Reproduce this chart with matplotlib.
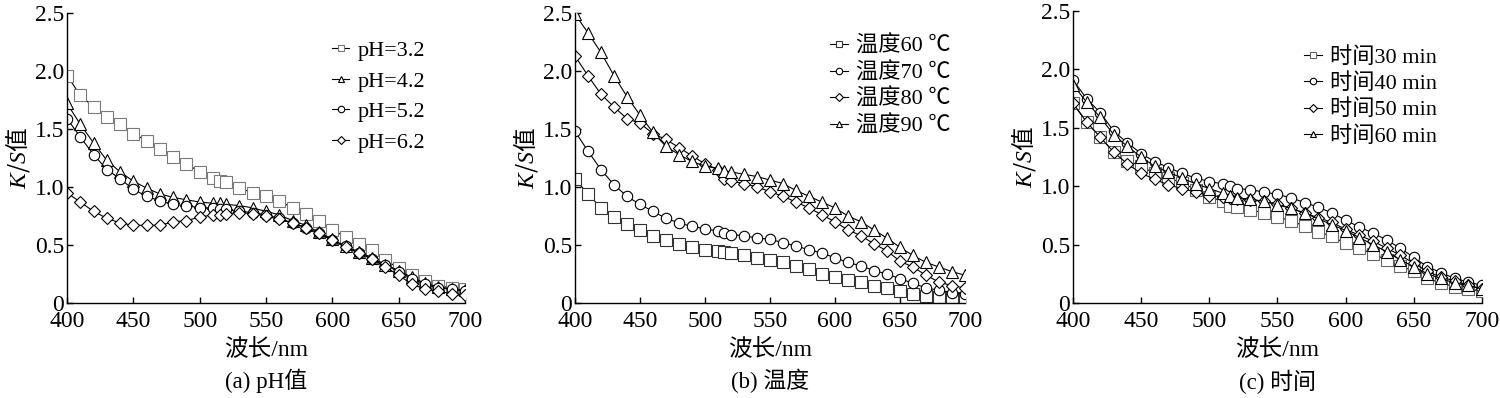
import matplotlib
matplotlib.use("Agg")
import matplotlib.pyplot as plt

plt.rcParams['font.family'] = ['Liberation Serif', 'Noto Sans CJK SC']
plt.rcParams['mathtext.fontset'] = 'custom'
plt.rcParams['mathtext.it'] = 'Liberation Serif:italic'
plt.rcParams['mathtext.rm'] = 'Liberation Serif'

wavelength = [400, 410, 420, 430, 440, 450, 460, 470, 480, 490, 500, 510, 515,
              520, 530, 540, 550, 560, 570, 580, 590, 600, 610, 620, 630, 640,
              650, 660, 670, 680, 690, 700]

# (a) pH
ph_labels = ['pH=3.2', 'pH=4.2', 'pH=5.2', 'pH=6.2']
ph_32 = [1.96, 1.79, 1.69, 1.60, 1.54, 1.46, 1.40, 1.33, 1.26, 1.20, 1.13, 1.08, 1.05,
         1.04, 0.99, 0.95, 0.92, 0.88, 0.82, 0.77, 0.71, 0.63, 0.57, 0.51, 0.46, 0.37,
         0.30, 0.24, 0.19, 0.15, 0.13, 0.12]
ph_42 = [1.72, 1.54, 1.38, 1.23, 1.13, 1.05, 0.99, 0.94, 0.91, 0.89, 0.87, 0.86, 0.86,
         0.85, 0.84, 0.82, 0.79, 0.76, 0.71, 0.67, 0.61, 0.55, 0.49, 0.44, 0.39, 0.33,
         0.28, 0.22, 0.17, 0.14, 0.12, 0.11]
ph_52 = [1.59, 1.43, 1.28, 1.15, 1.07, 0.98, 0.92, 0.88, 0.85, 0.84, 0.82, 0.82, 0.81,
         0.81, 0.79, 0.78, 0.76, 0.73, 0.69, 0.65, 0.60, 0.54, 0.49, 0.43, 0.38, 0.33,
         0.27, 0.21, 0.16, 0.13, 0.12, 0.10]
ph_62 = [0.95, 0.87, 0.79, 0.73, 0.69, 0.67, 0.67, 0.67, 0.70, 0.71, 0.74, 0.76, 0.76,
         0.77, 0.78, 0.77, 0.75, 0.72, 0.69, 0.65, 0.60, 0.54, 0.48, 0.43, 0.38, 0.31,
         0.24, 0.16, 0.12, 0.10, 0.08, 0.07]

# (b) temperature
temp_labels = ['温度60 ℃', '温度70 ℃', '温度80 ℃', '温度90 ℃']
temp_60 = [1.07, 0.94, 0.82, 0.74, 0.68, 0.63, 0.58, 0.54, 0.51, 0.48, 0.46, 0.45, 0.44,
           0.43, 0.41, 0.39, 0.37, 0.35, 0.32, 0.29, 0.25, 0.22, 0.20, 0.18, 0.15, 0.13,
           0.10, 0.08, 0.06, 0.05, 0.04, 0.04]
temp_70 = [1.48, 1.31, 1.15, 1.02, 0.92, 0.85, 0.79, 0.73, 0.69, 0.66, 0.64, 0.62, 0.60,
           0.59, 0.58, 0.56, 0.55, 0.52, 0.49, 0.46, 0.43, 0.39, 0.35, 0.32, 0.28, 0.25,
           0.21, 0.17, 0.13, 0.11, 0.09, 0.08]
temp_80 = [2.13, 1.96, 1.80, 1.69, 1.59, 1.55, 1.46, 1.41, 1.34, 1.27, 1.20, 1.15, 1.07,
           1.05, 1.03, 1.00, 0.96, 0.92, 0.87, 0.82, 0.76, 0.70, 0.63, 0.58, 0.51, 0.45,
           0.36, 0.31, 0.24, 0.18, 0.15, 0.13]
temp_90 = [2.49, 2.33, 2.16, 1.96, 1.78, 1.62, 1.47, 1.35, 1.28, 1.22, 1.18, 1.16, 1.14,
           1.13, 1.11, 1.09, 1.06, 1.03, 0.97, 0.92, 0.87, 0.82, 0.75, 0.70, 0.63, 0.56,
           0.48, 0.41, 0.35, 0.31, 0.27, 0.24]

# (c) time
time_labels = ['时间30 min', '时间40 min', '时间50 min', '时间60 min']
time_30 = [1.71, 1.55, 1.42, 1.29, 1.22, 1.17, 1.11, 1.07, 1.03, 0.97, 0.91, 0.87, 0.83,
           0.82, 0.80, 0.77, 0.74, 0.70, 0.66, 0.61, 0.57, 0.51, 0.47, 0.42, 0.37, 0.32,
           0.27, 0.21, 0.17, 0.14, 0.12, 0.10]
time_40 = [1.91, 1.75, 1.63, 1.47, 1.37, 1.28, 1.21, 1.16, 1.11, 1.07, 1.04, 1.02, 1.00,
           0.98, 0.97, 0.95, 0.93, 0.90, 0.86, 0.82, 0.77, 0.71, 0.65, 0.60, 0.54, 0.47,
           0.39, 0.31, 0.26, 0.21, 0.18, 0.15]
time_50 = [1.71, 1.55, 1.42, 1.29, 1.19, 1.11, 1.06, 1.01, 0.98, 0.95, 0.92, 0.91, 0.90,
           0.89, 0.88, 0.87, 0.85, 0.81, 0.77, 0.73, 0.69, 0.63, 0.58, 0.53, 0.47, 0.41,
           0.34, 0.27, 0.22, 0.19, 0.15, 0.12]
time_60 = [1.87, 1.72, 1.59, 1.44, 1.34, 1.25, 1.17, 1.12, 1.07, 1.02, 0.98, 0.94, 0.92,
           0.90, 0.89, 0.87, 0.84, 0.81, 0.77, 0.72, 0.67, 0.62, 0.56, 0.50, 0.44, 0.37,
           0.31, 0.25, 0.21, 0.17, 0.15, 0.12]

x_ticks = [400, 450, 500, 550, 600, 650, 700]
y_ticks = [0, 0.5, 1.0, 1.5, 2.0, 2.5]
y_ticklabels = ['0', '0.5', '1.0', '1.5', '2.0', '2.5']

panels = [
    dict(rect=[0.0447, 0.2387, 0.2653, 0.7286], series=[ph_32, ph_42, ph_52, ph_62],
         labels=ph_labels, caption='(a) pH值', leg=(0.665, 0.905), lsp=0.45,
         sqcolor='#7a7a7a'),
    dict(rect=[0.3833, 0.2387, 0.2600, 0.7286], series=[temp_60, temp_70, temp_80, temp_90],
         labels=temp_labels, caption='(b) 温度', leg=(0.655, 0.922), lsp=0.25,
         sqcolor='#333333'),
    dict(rect=[0.7153, 0.2387, 0.2727, 0.7336], series=[time_30, time_40, time_50, time_60],
         labels=time_labels, caption='(c) 时间', leg=(0.565, 0.877), lsp=0.25,
         sqcolor='#666666'),
]

orders = {
    '(a) pH值': [('s', 0), ('^', 1), ('o', 2), ('D', 3)],
    '(b) 温度': [('s', 0), ('o', 1), ('D', 2), ('^', 3)],
    '(c) 时间': [('s', 0), ('o', 1), ('D', 2), ('^', 3)],
}
msizes = {'s': 8, 'o': 7.5, '^': 8, 'D': 6}

fig = plt.figure(figsize=(15, 3.98), dpi=100)

for p in panels:
    ax = fig.add_axes(p['rect'])
    for marker, idx in orders[p['caption']]:
        ec = p['sqcolor'] if marker == 's' else 'black'
        ax.plot(wavelength, p['series'][idx], color='black', lw=0.8,
                marker=marker, ms=msizes[marker], mfc='white', mec=ec, mew=0.8,
                label=p['labels'][idx])
    ax.set_xlim(400, 700)
    ax.set_ylim(0, 2.5)
    ax.set_xticks(x_ticks)
    ax.set_yticks(y_ticks)
    ax.set_yticklabels(y_ticklabels)
    ax.spines['top'].set_visible(False)
    ax.spines['right'].set_visible(False)
    for s in ('left', 'bottom'):
        ax.spines[s].set_linewidth(1.0)
    ax.tick_params(direction='in', length=4, width=1.0, labelsize=17)
    ax.tick_params(axis='x', pad=6)
    ax.tick_params(axis='y', pad=2)
    ax.set_xlabel('波长/nm', fontsize=17, labelpad=5)
    ax.set_ylabel('$K$/$S$值', fontsize=17, family='Noto Sans CJK SC', labelpad=2)
    ax.text(0.5, -0.228, p['caption'], transform=ax.transAxes, ha='center', va='top',
            fontsize=16.5)
    handles, labels = ax.get_legend_handles_labels()
    ax.legend(handles, labels, loc='upper left', bbox_to_anchor=p['leg'],
              frameon=False, fontsize=16, markerscale=0.62, handlelength=0.8,
              handletextpad=0.35, labelspacing=p['lsp'], borderpad=0, borderaxespad=0)

fig.savefig('out.png', dpi=100)
